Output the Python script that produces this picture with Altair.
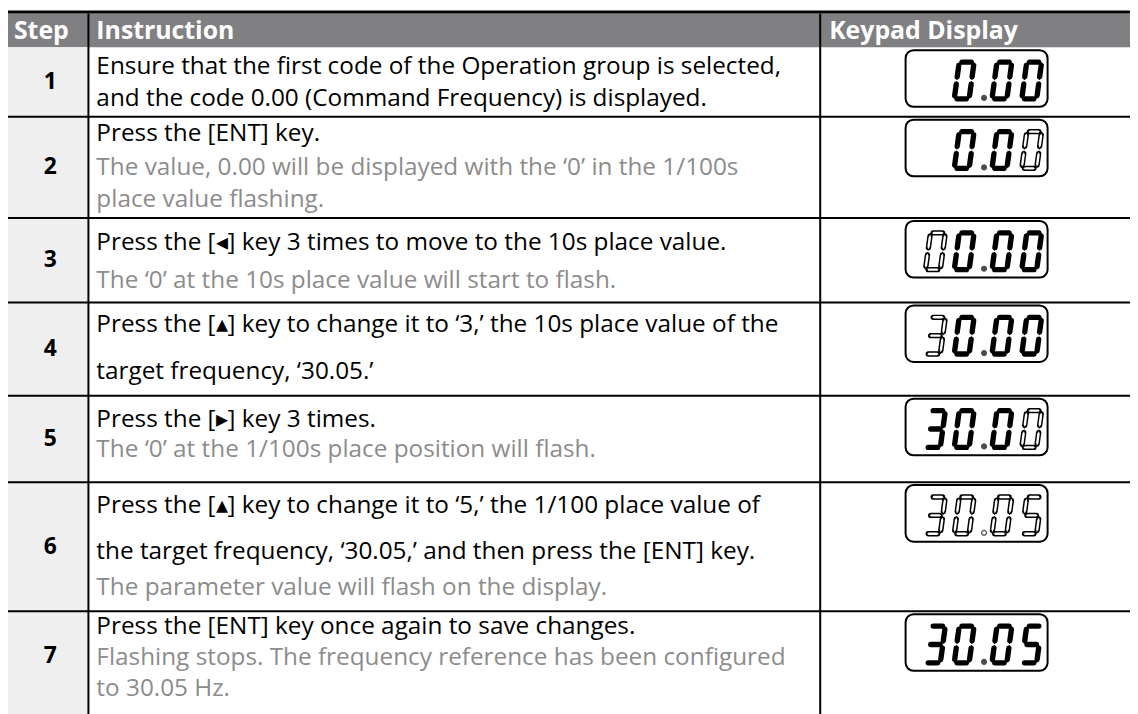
import altair as alt
import pandas as pd

# ---------------- data ----------------
headers = ["Step", "Instruction", "Keypad Display"]
steps = ["1", "2", "3", "4", "5", "6", "7"]
instructions = [
    ["Ensure that the first code of the Operation group is selected,",
     "and the code 0.00 (Command Frequency) is displayed."],
    ["Press the [ENT] key."],
    ["Press the [\u25c2] key 3 times to move to the 10s place value."],
    ["Press the [\u25b4] key to change it to \u20183,\u2019 the 10s place value of the",
     "target frequency, \u201830.05.\u2019"],
    ["Press the [\u25b8] key 3 times."],
    ["Press the [\u25b4] key to change it to \u20185,\u2019 the 1/100 place value of",
     "the target frequency, \u201830.05,\u2019 and then press the [ENT] key."],
    ["Press the [ENT] key once again to save changes."],
]
notes = [
    [],
    ["The value, 0.00 will be displayed with the \u20180\u2019 in the 1/100s",
     "place value flashing."],
    ["The \u20180\u2019 at the 10s place value will start to flash."],
    [],
    ["The \u20180\u2019 at the 1/100s place position will flash."],
    ["The parameter value will flash on the display."],
    ["Flashing stops. The frequency reference has been configured",
     "to 30.05 Hz."],
]
displays = ["0.00", "0.00", "00.00", "30.00", "30.00", "30.05", "30.05"]
# 1 = flashing (outlined) character, aligned with the display string
flash_masks = ["0000", "0001", "10000", "10000", "00001", "11111", "00000"]

# ---------------- layout (page pixels) ----------------
OX, OY = 8, 8
W, H = 1130, 706
LEFT, C1, C2, RIGHT = 8, 89, 826, 1138
TOP_LINE, HEAD_TOP, HEAD_BOT = 9.5, 11, 45
ROW_EDGES = [45, 115, 217, 302, 396, 483, 613, 703]
# vertical offset of each text line from its row's top edge
LINE_OFFSETS = [[20, 52], [17, 52, 84], [25, 63], [23, 70], [24, 55],
                [24, 70, 107], [16, 47, 78]]
FONT = "Open Sans"
FS = 24.5
HFS = 25
BOX_L, BOX_R, BOX_H = 912, 1055, 57
SLOTS = [20, 49, 87, 117]   # digit slots relative to box left
DOT_X = 79
DW, SL, DH = 15, 5, 37
SEG_W, SEG_IN = 5.4, 2.4

SEGS = {"a": ((0.04, 1), (0.96, 1)), "b": ((1, 0.98), (1, 0.53)),
        "c": ((1, 0.47), (1, 0.02)), "d": ((0.04, 0), (0.96, 0)),
        "e": ((0, 0.47), (0, 0.02)), "f": ((0, 0.98), (0, 0.53)),
        "g": ((0.04, 0.5), (0.96, 0.5))}
DIGITS = {"0": "abcdef", "3": "abcdg", "5": "acdfg"}
OUTER = [(0.0, 1.2), (0.16, SEG_W), (0.84, SEG_W), (1.0, 1.2)]
INNER = [(0.08, 0.3), (0.22, SEG_IN), (0.78, SEG_IN), (0.92, 0.3)]

xs = alt.Scale(domain=[OX, OX + W], nice=False, zero=False)
ys = alt.Scale(domain=[OY + H, OY], nice=False, zero=False)


def X(f):
    return alt.X(f"{f}:Q", scale=xs, axis=None)


def Y(f):
    return alt.Y(f"{f}:Q", scale=ys, axis=None)


# ---------------- build tables ----------------
rects = [
    dict(x=LEFT, x2=RIGHT, y=HEAD_TOP, y2=HEAD_BOT, c="#808083"),
    dict(x=LEFT, x2=C1, y=HEAD_BOT, y2=OY + H + 10, c="#efefef"),
]
rules = [dict(x=LEFT, x2=RIGHT, y=TOP_LINE, y2=TOP_LINE, w=3)]
for e in ROW_EDGES[1:-1]:
    rules.append(dict(x=LEFT, x2=RIGHT, y=e, y2=e, w=2))
for c in (C1, C2):
    rules.append(dict(x=c, x2=c, y=HEAD_TOP, y2=OY + H + 10, w=2))

head_text = [dict(x=14, y=29, t=headers[0]),
             dict(x=97, y=29, t=headers[1]),
             dict(x=835, y=29, t=headers[2])]
step_text = []
body_text = []
boxes, outer_pts, inner_pts, dots = [], [], [], []
sid = 0
for i, s in enumerate(steps):
    top, bot = ROW_EDGES[i], ROW_EDGES[i + 1]
    step_text.append(dict(x=(LEFT + C1) / 2 + 2, y=(top + bot) / 2, t=s))
    lines = [(t, "black") for t in instructions[i]] + [(t, "#8c8c8c") for t in notes[i]]
    for k, (t, col) in enumerate(lines):
        body_text.append(dict(x=97, y=top + LINE_OFFSETS[i][k], t=t, c=col))
    # keypad display
    btop = top + 3
    boxes.append(dict(x=BOX_L, x2=BOX_R, y=btop, y2=btop + BOX_H))
    disp, mask = displays[i], flash_masks[i]
    ybase = btop + 49
    ip, fp = disp.split(".")
    flags = [m == "1" for m in mask]
    slot_info = []
    for k, ch in enumerate(ip):
        slot_info.append((2 - len(ip) + k, ch, flags[k]))
    for k, ch in enumerate(fp):
        slot_info.append((2 + k, ch, flags[len(ip) + 1 + k]))
    for slot, ch, fl in slot_info:
        x0 = BOX_L + SLOTS[slot]
        for sg in DIGITS[ch]:
            (u1, v1), (u2, v2) = SEGS[sg]
            xa, ya = x0 + u1 * DW + v1 * SL, ybase - v1 * DH
            xb, yb = x0 + u2 * DW + v2 * SL, ybase - v2 * DH
            for k, (t, w) in enumerate(OUTER):
                outer_pts.append(dict(sid=sid, k=k, x=xa + (xb - xa) * t,
                                      y=ya + (yb - ya) * t, w=w))
            if fl:
                for k, (t, w) in enumerate(INNER):
                    inner_pts.append(dict(sid=sid, k=k, x=xa + (xb - xa) * t,
                                          y=ya + (yb - ya) * t, w=w))
            sid += 1
    dots.append(dict(x=BOX_L + DOT_X, y=ybase - 1, hollow=flags[len(ip)]))

rects_df = pd.DataFrame(rects)
rules_df = pd.DataFrame(rules)
head_df = pd.DataFrame(head_text)
step_df = pd.DataFrame(step_text)
body_df = pd.DataFrame(body_text)
boxes_df = pd.DataFrame(boxes)
outer_df = pd.DataFrame(outer_pts)
inner_df = pd.DataFrame(inner_pts)
dots_df = pd.DataFrame(dots)

# ---------------- layers ----------------
rect_layer = alt.Chart(rects_df).mark_rect().encode(
    x=X("x"), x2="x2", y=Y("y"), y2="y2", color=alt.Color("c:N", scale=None))
rule_layer = alt.Chart(rules_df).mark_rule(color="black").encode(
    x=X("x"), x2="x2", y=Y("y"), y2="y2", strokeWidth=alt.StrokeWidth("w:Q", scale=None))
box_layer = alt.Chart(boxes_df).mark_rect(
    cornerRadius=8, fill="white", stroke="black", strokeWidth=2).encode(
    x=X("x"), x2="x2", y=Y("y"), y2="y2")
seg_black = alt.Chart(outer_df).mark_trail(color="black").encode(
    x=X("x"), y=Y("y"), detail="sid:N", order="k:Q",
    size=alt.Size("w:Q", scale=None))
seg_white = alt.Chart(inner_df).mark_trail(color="white").encode(
    x=X("x"), y=Y("y"), detail="sid:N", order="k:Q",
    size=alt.Size("w:Q", scale=None))
dot_layer = alt.Chart(dots_df).mark_point(filled=False, shape="circle", size=24).encode(
    x=X("x"), y=Y("y"),
    stroke=alt.value("black"), strokeWidth=alt.value(1.2),
    fill=alt.condition("datum.hollow", alt.value("white"), alt.value("black")),
    fillOpacity=alt.value(1))
head_layer = alt.Chart(head_df).mark_text(
    font=FONT, fontSize=HFS, fontWeight="bold", baseline="middle", align="left",
    color="white").encode(x=X("x"), y=Y("y"), text="t:N")
step_layer = alt.Chart(step_df).mark_text(
    font=FONT, fontSize=23, fontWeight="bold", baseline="middle", align="center",
    color="black").encode(x=X("x"), y=Y("y"), text="t:N")
body_layer = alt.Chart(body_df).mark_text(
    font=FONT, fontSize=FS, align="left", baseline="middle").encode(
    x=X("x"), y=Y("y"), text="t:N", color=alt.Color("c:N", scale=None))

chart = alt.layer(rect_layer, rule_layer, box_layer, seg_black, seg_white, dot_layer,
                  head_layer, step_layer, body_layer).properties(
    width=W, height=H, padding=0, autosize=alt.AutoSizeParams(type="none"),
    background="white"
).configure_view(strokeWidth=0)

chart.save("out.html", embed_options={"renderer": "svg", "actions": False})
